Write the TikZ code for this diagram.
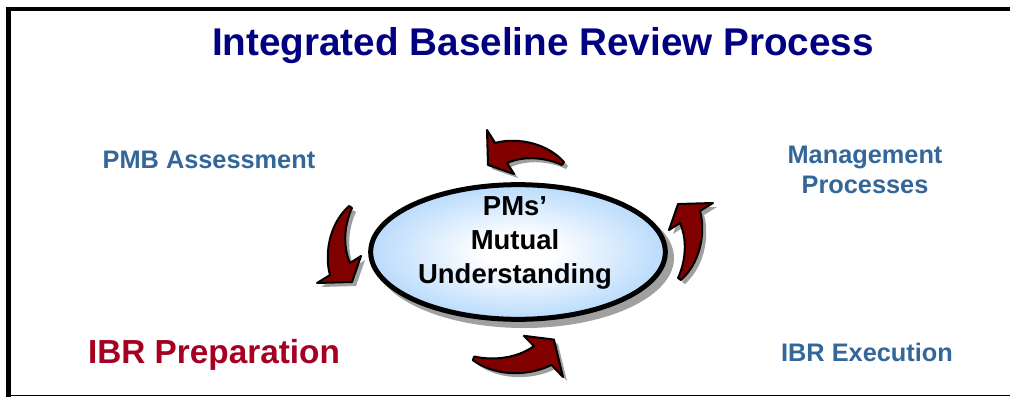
\documentclass[tikz,border=0pt]{standalone}
\usepackage{fontspec}
\setmainfont{Liberation Sans}
\usetikzlibrary{shapes.geometric}
\definecolor{titleblue}{RGB}{0,0,128}
\definecolor{steel}{RGB}{51,102,153}
\definecolor{ibrred}{RGB}{165,0,33}
\definecolor{arrowred}{RGB}{128,0,0}
\definecolor{ellblue}{RGB}{145,198,250}
\definecolor{shadowgray}{RGB}{160,160,160}
\pgfdeclareradialshading{ellshade}{\pgfpoint{0bp}{0bp}}{color(0bp)=(white); color(6bp)=(white); color(36bp)=(ellblue); color(50bp)=(ellblue)}
\newcommand{\myarrow}[1]{\path[#1] (0,0) -- (8,13) .. controls (25,8) and (57,10) .. (77,32) -- (75,35) .. controls (60,28) and (38,25) .. (20,33) -- (27,44) -- (1,35) -- cycle;}
\newcommand{\placearrow}[4]{%
  \begin{scope}[shift={(#1+4,#2+4)}, rotate=#3, scale=#4]\myarrow{arrowshadow}\end{scope}%
  \begin{scope}[shift={(#1,#2)}, rotate=#3, scale=#4]\myarrow{arrowshape}\end{scope}}
\tikzset{
  arrowshape/.style={fill=arrowred, draw=black, line width=1.5pt, line join=round},
  arrowshadow/.style={fill=shadowgray},
  lbl/.style={font=\bfseries\fontsize{19}{22.5}\selectfont, text=steel, align=center, inner sep=0pt},
}
\begin{document}
\begin{tikzpicture}[x=0.75pt, y=-0.75pt]
\useasboundingbox (0,0) rectangle (1010,397);
% frame
\draw[line width=3.6pt] (1010,9) -- (8.5,9) -- (8.5,397);
\draw[line width=1.2pt] (8.5,395.5) -- (1010,395.5);
% title
\node (title) [font=\bfseries\fontsize{29}{34}\selectfont, text=titleblue, inner sep=0pt] at (543,46) {Integrated Baseline Review Process};
% labels
\node (pmb) [lbl] at (209,160) {PMB Assessment};
\node (mgmt) [lbl] at (865,170) {Management\\Processes};
\node (exec) [lbl] at (867,352) {IBR Execution};
\node (prep) [lbl, text=ibrred, font=\bfseries\fontsize{25}{30}\selectfont] at (214,355) {IBR Preparation};
% ellipse
\fill[shadowgray] (524,258) ellipse [x radius=150, y radius=70];
\node (ell) [ellipse, draw=black, line width=3.75pt, shading=ellshade, minimum width=221pt, minimum height=101pt, inner sep=0pt] at (518,252) {};
\node (core) [font=\bfseries\fontsize{20.6}{25.5}\selectfont, align=center, inner sep=0pt] at (515,243) {PMs’\\Mutual\\Understanding};
% arrows
\placearrow{487}{130}{0}{1}
\placearrow{317}{283}{90}{1}
\placearrow{563}{377}{192}{1.1}
\placearrow{713}{203}{-90}{1}
\end{tikzpicture}
\end{document}
